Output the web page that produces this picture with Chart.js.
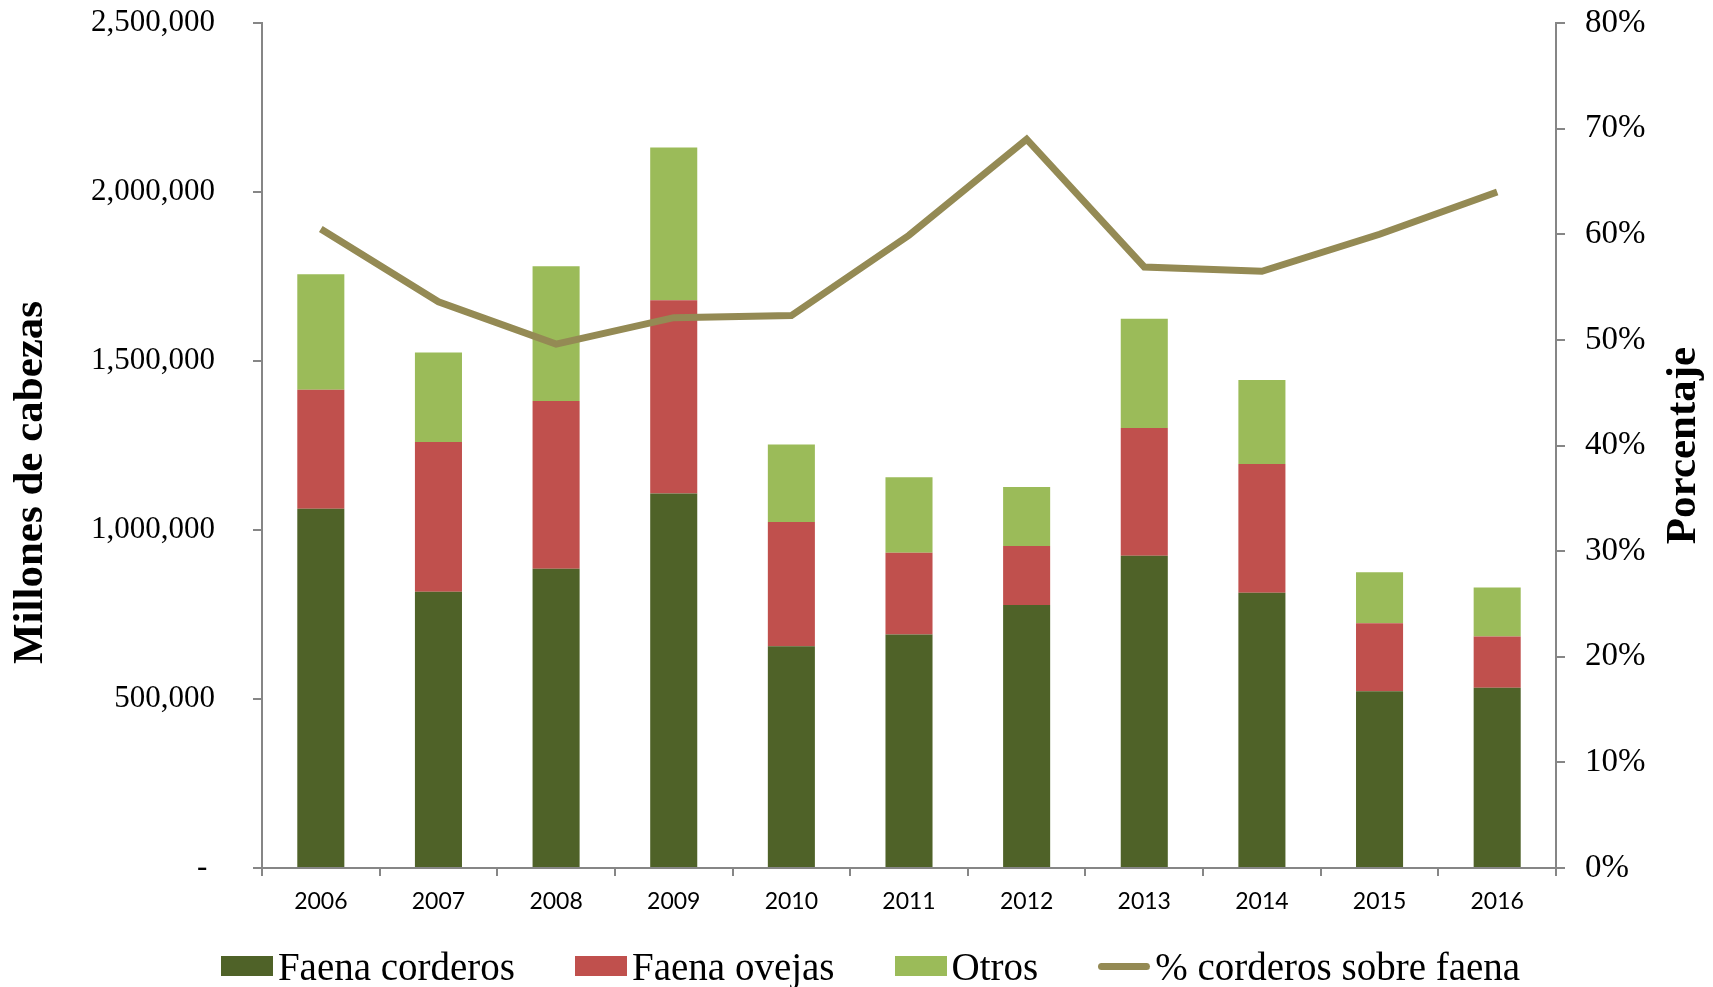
<!DOCTYPE html>
<html>
<head>
<meta charset="utf-8">
<script src="https://cdn.jsdelivr.net/npm/chart.js@4"></script>
<style>
  html, body { margin: 0; padding: 0; background: #fff; }
  #wrap { position: relative; width: 1713px; height: 987px; }
  #legend {
    position: absolute; left: 0; top: 944px; width: 1713px; height: 44px;
    display: flex; justify-content: center; align-items: center;
    padding-left: 28px; box-sizing: border-box;
    font-family: "Liberation Serif", "Times New Roman", serif; font-size: 39px; color: #000;
  }
  #legend .item { display: flex; align-items: center; margin: 0 30px; white-space: nowrap; }
  #legend .box { display: inline-block; width: 52px; height: 20px; margin-right: 5px; }
  #legend .line { display: inline-block; width: 52px; height: 7px; border-radius: 4px; margin-right: 5px; }
</style>
</head>
<body>
<div id="wrap">
  <canvas id="faena" width="1713" height="987"></canvas>
  <div id="legend"></div>
</div>
<script>
const years = ["2006", "2007", "2008", "2009", "2010", "2011", "2012", "2013", "2014", "2015", "2016"];
const corderos = [1063000, 817000, 885000, 1108000, 656000, 691000, 778000, 924000, 814000, 523000, 533000];
const ovejas = [352000, 443000, 497000, 572000, 368000, 242000, 175000, 378000, 381000, 201000, 152000];
const otros = [342000, 265000, 398000, 452000, 229000, 223000, 174000, 323000, 249000, 151000, 145000];
const pctCorderos = [60.5, 53.6, 49.6, 52.1, 52.3, 59.9, 69.0, 56.9, 56.5, 60.0, 64.0];

const yTitle = "Millones de cabezas";
const y1Title = "Porcentaje";

const serif = '"Liberation Serif", "Times New Roman", serif';
const axisGray = "#868686";

// titulos de ejes dibujados a mano (el derecho se lee de abajo hacia arriba)
const axisTitles = {
    id: "axisTitles",
    afterDraw(chart) {
        const ctx = chart.ctx;
        const mid = (chart.chartArea.top + chart.chartArea.bottom) / 2;
        ctx.save();
        ctx.font = "bold 43px " + serif;
        ctx.fillStyle = "#000";
        ctx.textAlign = "center";
        ctx.textBaseline = "middle";

        ctx.save();
        ctx.translate(31, mid + 37);
        ctx.rotate(-Math.PI / 2);
        ctx.fillText(yTitle, 0, 0);
        ctx.restore();

        ctx.save();
        ctx.translate(1684, mid);
        ctx.rotate(-Math.PI / 2);
        ctx.fillText(y1Title, 0, 0);
        ctx.restore();

        ctx.restore();
    },
};

// leyenda en html, armada con los datasets del grafico
const htmlLegend = {
    id: "htmlLegend",
    afterUpdate(chart) {
        const box = document.getElementById("legend");
        box.innerHTML = "";
        chart.data.datasets.forEach(function (ds) {
            const item = document.createElement("div");
            item.className = "item";
            const mark = document.createElement("span");
            mark.className = ds.type === "line" ? "line" : "box";
            mark.style.background = ds.type === "line" ? ds.borderColor : ds.backgroundColor;
            const txt = document.createElement("span");
            txt.textContent = ds.label;
            item.appendChild(mark);
            item.appendChild(txt);
            box.appendChild(item);
        });
    },
};

// ancho fijo del eje y sin el relleno extra que agrega chart.js arriba y abajo
function fixWidth(w) {
    return function (scale) {
        scale.width = w;
        scale.paddingTop = 0;
        scale.paddingBottom = 0;
    };
}

new Chart(document.getElementById("faena"), {
    data: {
        labels: years,
        datasets: [
            {
                type: "bar",
                label: "Faena corderos",
                data: corderos,
                backgroundColor: "#4F6228",
                yAxisID: "y",
                order: 1,
            },
            {
                type: "bar",
                label: "Faena ovejas",
                data: ovejas,
                backgroundColor: "#C0504D",
                yAxisID: "y",
                order: 1,
            },
            {
                type: "bar",
                label: "Otros",
                data: otros,
                backgroundColor: "#9BBB59",
                yAxisID: "y",
                order: 1,
            },
            {
                type: "line",
                label: "% corderos sobre faena",
                data: pctCorderos,
                borderColor: "#948A54",
                backgroundColor: "#948A54",
                borderWidth: 7,
                pointRadius: 0,
                tension: 0,
                yAxisID: "y1",
                order: 0,
            },
        ],
    },
    options: {
        responsive: false,
        animation: false,
        datasets: {
            bar: {
                barPercentage: 0.4,
                categoryPercentage: 1,
            },
        },
        layout: {
            autoPadding: false,
            padding: { top: 23, left: 0, right: 0, bottom: 69 },
        },
        scales: {
            x: {
                stacked: true,
                grid: {
                    offset: true,
                    drawOnChartArea: false,
                    tickLength: 8,
                    color: axisGray,
                    lineWidth: 2,
                },
                border: { color: axisGray, width: 2 },
                ticks: {
                    color: "#000",
                    padding: 12,
                    font: { family: 'Lato, "Liberation Sans", sans-serif', size: 23 },
                },
                afterFit: function (scale) {
                    scale.height = 50;
                    scale.paddingLeft = 0;
                    scale.paddingRight = 0;
                },
            },
            y: {
                stacked: true,
                position: "left",
                min: 0,
                max: 2500000,
                grid: {
                    drawOnChartArea: false,
                    tickLength: 9,
                    color: axisGray,
                    lineWidth: 2,
                },
                border: { color: axisGray, width: 2 },
                ticks: {
                    stepSize: 500000,
                    color: "#000",
                    padding: 38,
                    font: { family: serif, size: 31 },
                    callback: function (value) {
                        return value === 0 ? "- " : value.toLocaleString("en-US");
                    },
                },
                afterFit: fixWidth(262),
            },
            y1: {
                position: "right",
                min: 0,
                max: 80,
                grid: {
                    drawOnChartArea: false,
                    tickLength: 9,
                    color: axisGray,
                    lineWidth: 2,
                },
                border: { color: axisGray, width: 2 },
                ticks: {
                    stepSize: 10,
                    color: "#000",
                    padding: 20,
                    font: { family: serif, size: 33 },
                    callback: function (value) {
                        return value + "%";
                    },
                },
                afterFit: fixWidth(157),
            },
        },
        plugins: {
            legend: { display: false },
            tooltip: { enabled: false },
        },
    },
    plugins: [axisTitles, htmlLegend],
});
</script>
</body>
</html>
